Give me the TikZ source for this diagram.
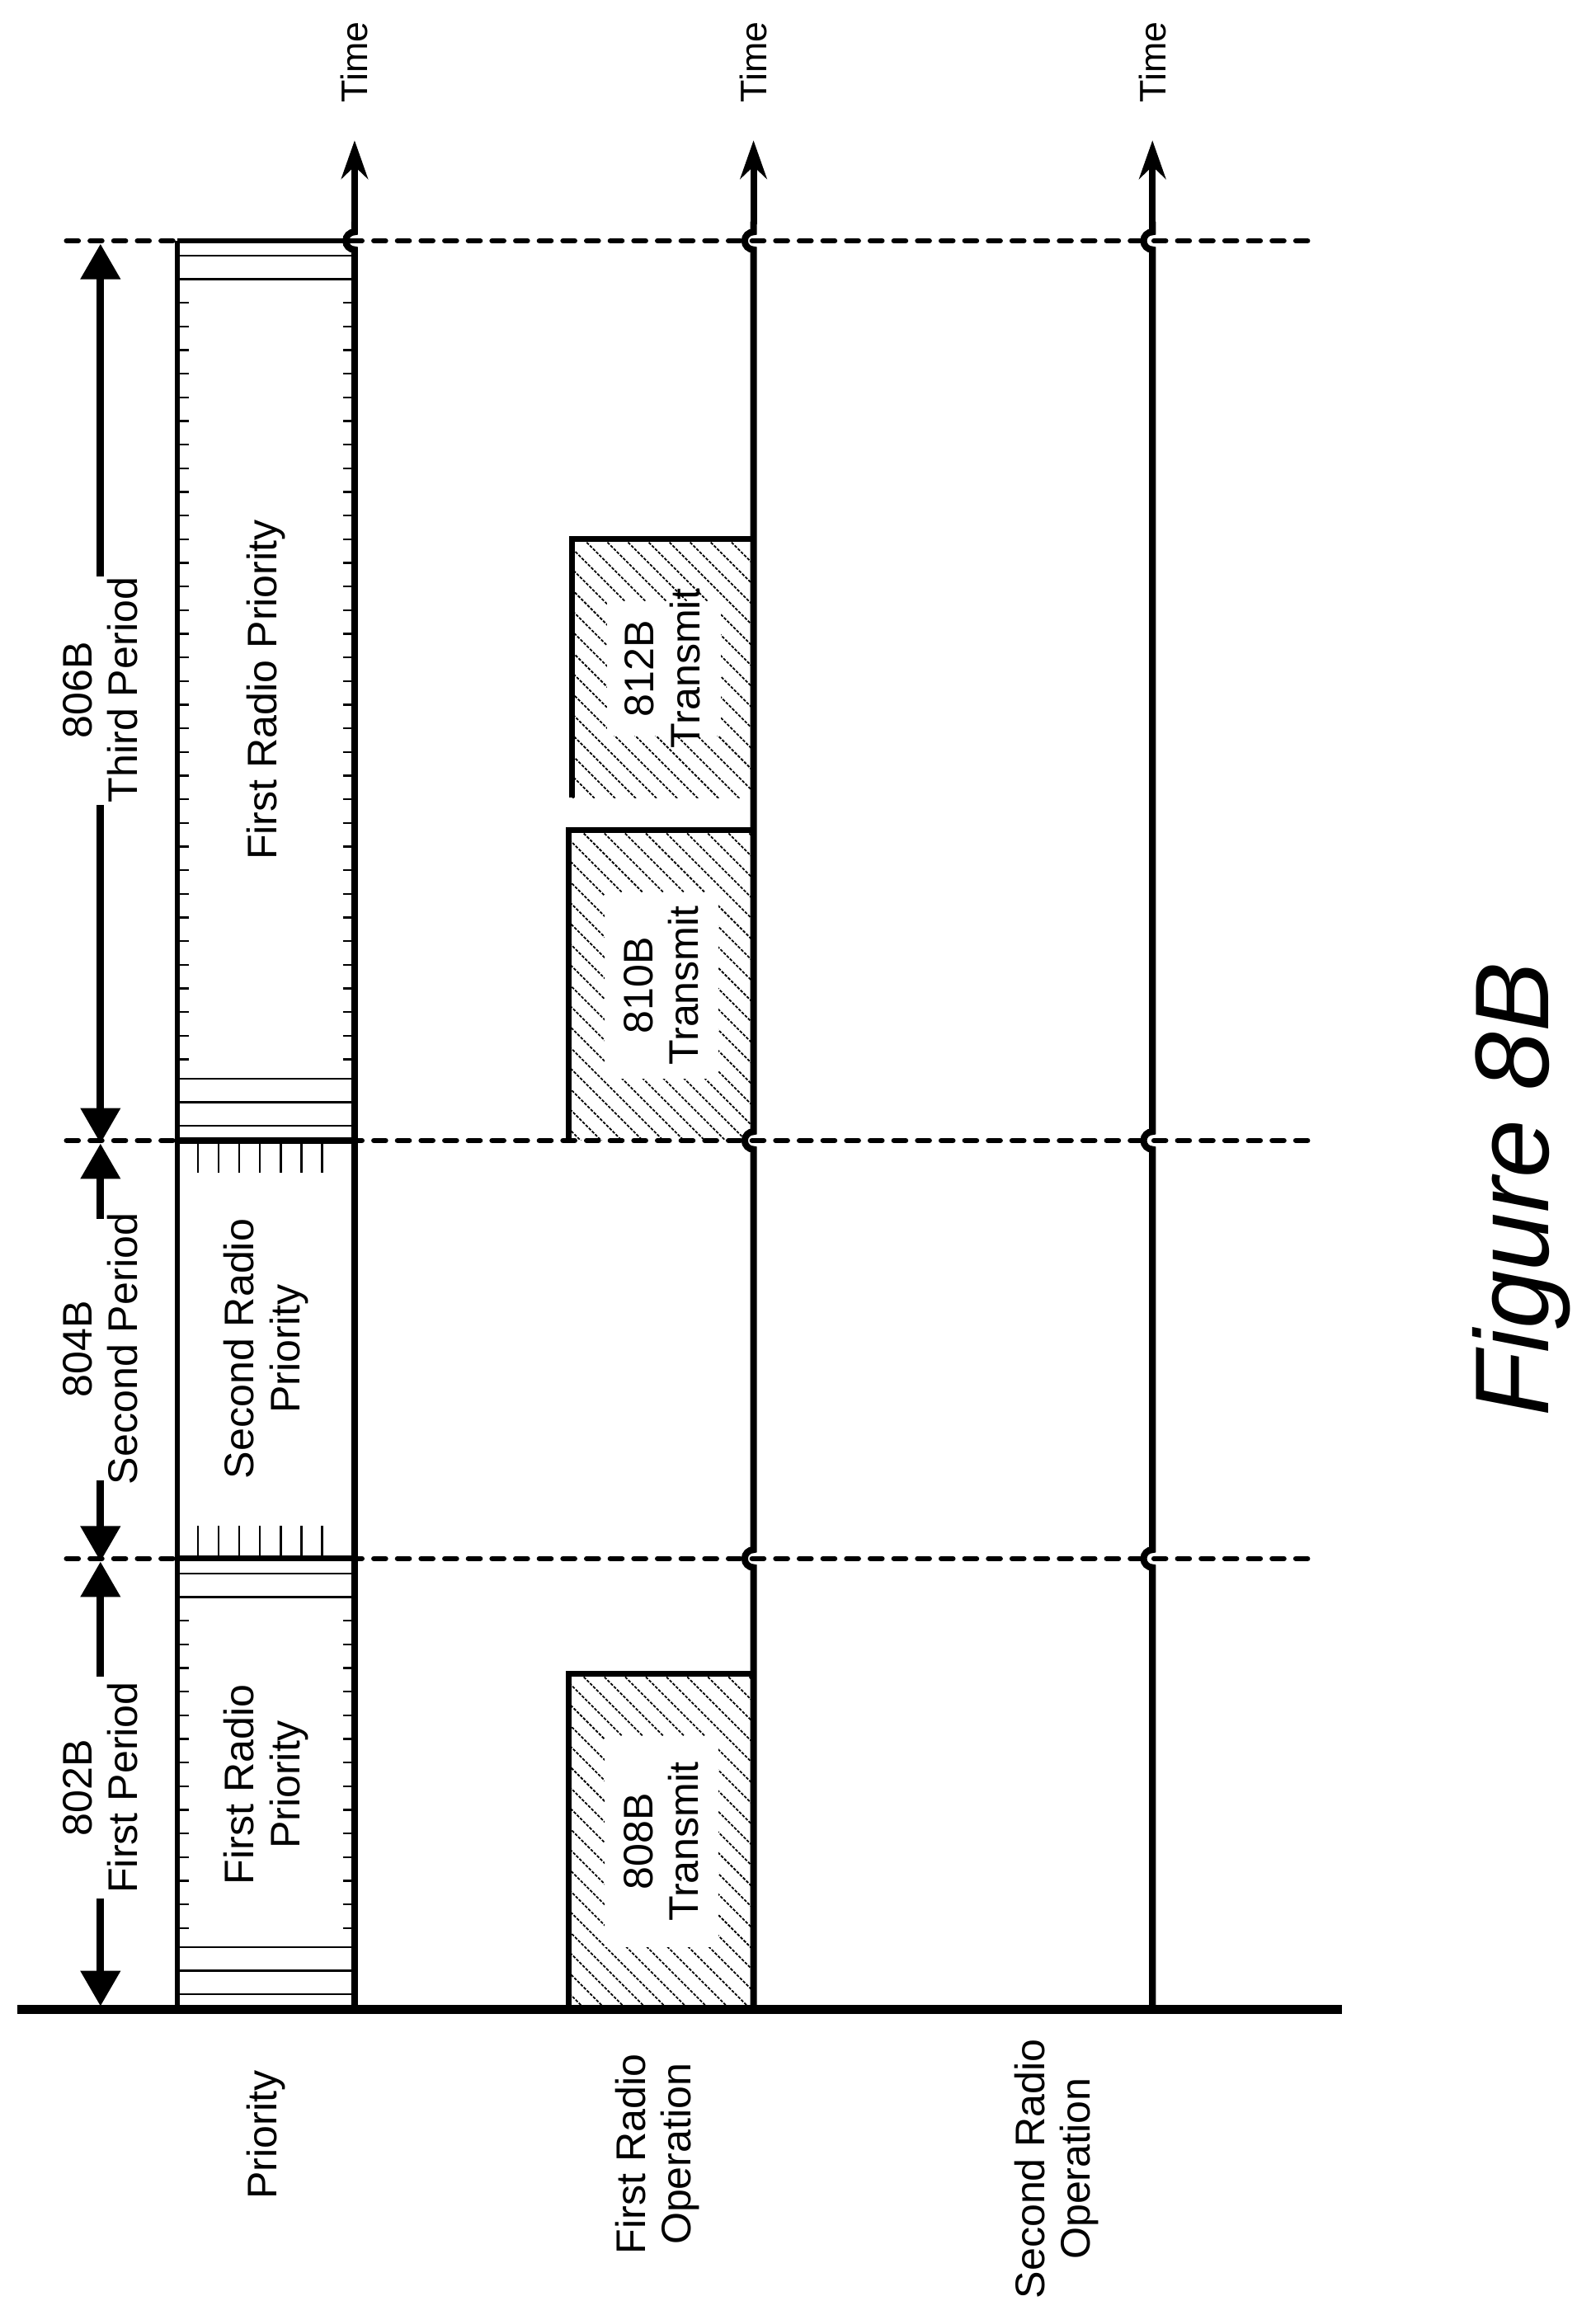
\documentclass[tikz,border=0pt]{standalone}
\usepackage{fontspec}
\setmainfont{Liberation Sans}
\usetikzlibrary{arrows.meta}
\begin{document}
\begin{tikzpicture}[x=1pt,y=-1pt,
  lbl/.style={rotate=90,align=center,font=\fontsize{28}{31}\selectfont,inner sep=0pt},
  axis/.style={line width=4.5pt},
  dsh/.style={line width=3.5pt,dash pattern=on 8pt off 8pt,line cap=round},
  dim/.style={line width=5pt,-{Triangle[length=24pt,width=26pt]}},
  thin/.style={line width=1.3pt},
  tarrow/.style={line width=4.5pt,-{Stealth[length=26pt,width=18pt]}}]
\useasboundingbox (0,0) rectangle (1080,1567);
% dashed period lines
\foreach \y in {163,772,1055} \draw[dsh] (45,\y) -- (890,\y);
% priority hatching
\foreach \a/\b in {1055/1360,163/772}{
  \foreach \d in {10,26} \draw[thin] (120,\a+\d) -- (240,\a+\d);
  \foreach \d in {10,26,42} \draw[thin] (120,\b-\d) -- (240,\b-\d);
  \pgfmathtruncatemacro\ys{\a+42}
  \pgfmathtruncatemacro\yt{\a+58}
  \pgfmathtruncatemacro\ye{\b-50}
  \foreach \y in {\ys,\yt,...,\ye} {\draw[thin] (120,\y) -- (128,\y); \draw[thin] (232,\y) -- (240,\y);}
}
\foreach \x in {134,148,...,230} {\draw[thin] (\x,772) -- (\x,794); \draw[thin] (\x,1055) -- (\x,1033);}
\draw[line width=3pt] (120,163) -- (120,1360);
\draw[line width=3pt] (120,163) -- (240,163);
\draw[line width=4pt] (120,772) -- (240,772) (120,1055) -- (240,1055);
% priority axis
\draw[axis] (240,1360) -- (240,169) arc[start angle=90,end angle=270,radius=6] -- (240,150);
\draw[tarrow] (240,152) -- (240,95);
% transmit boxes
\foreach \t/\a/\b/\l in {808B/1133/1360/385, 810B/562/772/385, 812B/365/540/387}{
  \begin{scope}
    \clip (\l,\a) rectangle (510,\b);
    \foreach \k in {-300,-286,...,300} \draw[line width=1pt,dash pattern=on 2pt off 1pt] (\l+\k,\a) -- (\l+\k+300,\a+300);
  \end{scope}
  \fill[white] (\l+24,\a+42) rectangle (\l+101,\b-42);
  \draw[line width=4pt] (\l,\b) -- (\l,\a) -- (510,\a);
  \node[lbl] (t\t) at ({(\l+510)/2},{(\a+\b)/2}) {\t\\Transmit};
}
% radio axes with bumps
\foreach \x in {510,780}{
  \draw[axis] (\x,1360) -- (\x,1061) arc[start angle=90,end angle=270,radius=6] -- (\x,778) arc[start angle=90,end angle=270,radius=6] -- (\x,169) arc[start angle=90,end angle=270,radius=6] -- (\x,150);
  \draw[tarrow] (\x,152) -- (\x,95);
}
% baseline
\draw[line width=6pt] (12,1360) -- (908,1360);
% Time labels
\foreach \x/\n in {240/a,510/b,780/c} \node[lbl,font=\fontsize{25}{28}\selectfont] (time\n) at (\x,42) {Time};
% priority box labels
\node[lbl] (p1) at (180,1208) {First Radio\\Priority};
\node[lbl] (p2) at (180,913) {Second Radio\\Priority};
\node[lbl] (p3) at (180,467) {First Radio Priority};
% period labels
\node[lbl] (per1) at (68,1210) {802B\\First Period};
\node[lbl] (per2) at (68,913) {804B\\Second Period};
\node[lbl] (per3) at (68,467) {806B\\Third Period};
\draw[dim] (68,1285) -- (68,1358);
\draw[dim] (68,1135) -- (68,1057);
\draw[dim] (68,1002) -- (68,1057);
\draw[dim] (68,825) -- (68,774);
\draw[dim] (68,545) -- (68,774);
\draw[dim] (68,390) -- (68,165);
% row labels
\node[lbl] (r1) at (180,1445) {Priority};
\node[lbl] (r2) at (445,1458) {First Radio\\Operation};
\node[lbl] (r3) at (715,1468) {Second Radio\\Operation};
% figure
\node[rotate=90,font=\fontsize{71}{80}\selectfont\itshape,inner sep=0pt] (fig) at (1030,805) {Figure 8B};
\end{tikzpicture}
\end{document}
